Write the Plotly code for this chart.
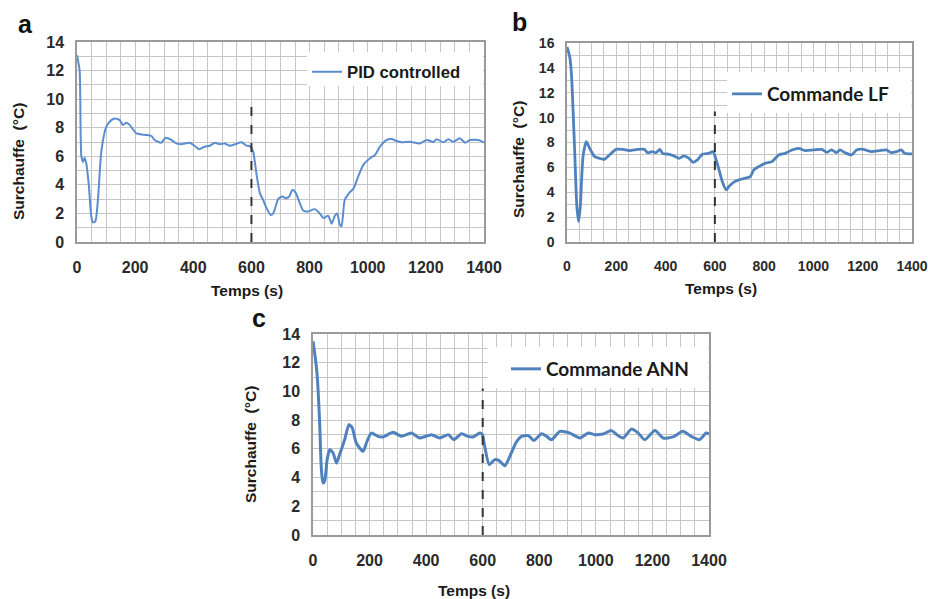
import plotly.graph_objects as go

# ---------------- data ----------------
t_pid = [0, 9, 15, 21, 26, 32, 41, 49, 55, 63, 72, 84, 101, 118, 130, 147, 158, 170, 181, 204, 221, 239, 256, 267, 290, 305, 325, 342, 359, 388, 405, 420, 439, 457, 474, 491, 508, 526, 543, 566, 581, 597, 606, 617, 629, 640, 652, 666, 675, 692, 707, 718, 730, 741, 753, 764, 778, 795, 818, 835, 849, 864, 876, 887, 895, 904, 910, 921, 938, 952, 967, 985, 1008, 1025, 1042, 1065, 1082, 1099, 1117, 1145, 1180, 1203, 1226, 1237, 1260, 1277, 1294, 1317, 1335, 1352, 1381, 1400]
y_pid = [13.07, 12.0, 6.0, 5.6, 5.9, 5.5, 3.9, 1.8, 1.37, 1.44, 2.95, 6.4, 8.07, 8.53, 8.65, 8.53, 8.19, 8.35, 8.2, 7.6, 7.53, 7.49, 7.42, 7.14, 6.95, 7.3, 7.14, 6.9, 6.84, 6.95, 6.72, 6.49, 6.67, 6.74, 6.95, 6.84, 6.9, 6.74, 6.84, 6.98, 6.77, 6.67, 6.33, 4.81, 3.42, 2.95, 2.37, 1.9, 2.0, 3.0, 3.19, 3.07, 3.19, 3.65, 3.42, 2.84, 2.21, 2.14, 2.3, 2.0, 1.67, 1.84, 1.28, 1.84, 2.0, 1.21, 1.1, 2.95, 3.47, 3.77, 4.58, 5.4, 5.86, 6.09, 6.67, 7.14, 7.21, 7.07, 6.98, 7.02, 6.9, 7.14, 7.0, 7.19, 6.98, 7.19, 7.02, 7.26, 6.95, 7.14, 7.14, 6.95]

t_lf = [0, 11, 18, 31, 40, 47, 54, 65, 78, 92, 112, 132, 152, 172, 199, 226, 253, 287, 314, 327, 347, 361, 377, 388, 415, 441, 455, 475, 495, 512, 529, 549, 576, 593, 603, 617, 630, 646, 657, 677, 697, 724, 744, 758, 778, 805, 832, 859, 886, 913, 940, 966, 1000, 1034, 1054, 1074, 1094, 1108, 1128, 1155, 1175, 1202, 1236, 1269, 1296, 1316, 1337, 1357, 1370, 1400]
y_lf = [15.68, 14.9, 13.5, 7.4, 2.86, 1.66, 2.86, 6.86, 8.07, 7.53, 6.86, 6.73, 6.65, 7.0, 7.45, 7.45, 7.35, 7.45, 7.45, 7.18, 7.26, 7.18, 7.45, 7.13, 7.05, 6.86, 6.73, 6.92, 6.73, 6.41, 6.6, 7.05, 7.13, 7.26, 6.73, 5.8, 4.86, 4.19, 4.46, 4.81, 5.0, 5.13, 5.26, 5.8, 6.06, 6.33, 6.46, 7.0, 7.13, 7.4, 7.53, 7.35, 7.4, 7.45, 7.21, 7.4, 7.18, 7.4, 7.18, 7.0, 7.4, 7.45, 7.26, 7.35, 7.4, 7.18, 7.26, 7.4, 7.13, 7.08]

t_ann = [0, 9, 15, 24, 29, 35, 41, 50, 59, 71, 83, 94, 112, 127, 139, 153, 177, 191, 206, 230, 248, 283, 313, 348, 377, 419, 448, 478, 498, 525, 548, 566, 590, 599, 607, 623, 643, 658, 678, 696, 717, 737, 761, 781, 808, 826, 843, 873, 908, 944, 973, 996, 1026, 1055, 1079, 1097, 1126, 1150, 1173, 1209, 1238, 1273, 1308, 1337, 1366, 1390, 1400]
y_ann = [13.49, 12.2, 11.05, 7.57, 4.78, 3.62, 3.74, 5.25, 5.94, 5.71, 5.01, 5.6, 6.64, 7.69, 7.45, 6.41, 5.83, 6.53, 7.1, 6.87, 6.83, 7.15, 6.87, 7.1, 6.76, 6.99, 6.76, 6.99, 6.64, 7.06, 6.87, 6.83, 7.1, 6.99, 6.18, 4.9, 5.25, 5.18, 4.83, 5.48, 6.41, 6.87, 6.92, 6.59, 7.06, 6.87, 6.64, 7.22, 7.1, 6.76, 7.1, 6.99, 7.04, 7.27, 6.92, 6.76, 7.38, 7.1, 6.64, 7.27, 6.76, 6.83, 7.22, 6.87, 6.64, 7.1, 7.04]

series_names = ["PID controlled", "Commande LF", "Commande ANN"]
panel_letters = ["a", "b", "c"]
y_max = [14, 16, 14]
x_max = 1400
step_time = 600
step_line_top = [10.0, 10.5, 10.2]
x_tick_vals = [0, 200, 400, 600, 800, 1000, 1200, 1400]
x_title = "Temps (s)"
y_title = "Surchauffe\u00a0 (°C)"

# ---------------- layout helpers ----------------
W, H = 928, 599
def px(x):
    return x / W
def py(y):
    return 1 - y / H

# plot area boxes in pixels: (left, right, top, bottom)
boxes = [(77, 484, 42, 242), (567, 912, 43, 242), (313, 709, 334, 535)]
legend_boxes = [(307, 483, 52, 86), (727, 911, 72, 113), (488, 708, 347, 388)]
legend_pos = [(307, 72), (727, 94), (506, 369)]
line_colors = ["#5b8dd0", "#4f81bd", "#4f81bd"]
line_widths = [2, 2.8, 3]
tick_sizes = [16, 14, 16]
ytitle_pos = [(18, 162), (518, 160), (250, 445)]
xtitle_pos = [(247, 290), (721, 288), (474, 590)]
letter_pos = [(25, 24), (519, 22), (259, 318)]
legend_fonts = [dict(family="Liberation Sans", size=16.7, color="#1a1a1a", weight="bold"),
                dict(family="Lato", size=19, color="#1a1a1a", weight="bold"),
                dict(family="Lato", size=19, color="#1a1a1a", weight="bold")]

data = [(t_pid, y_pid), (t_lf, y_lf), (t_ann, y_ann)]

fig = go.Figure()
shapes = []
annotations = []
layout = dict(width=W, height=H, margin=dict(l=0, r=0, t=0, b=0, autoexpand=False),
              template="none",
              paper_bgcolor="white", plot_bgcolor="white", showlegend=True)

grid_col = "#c6c6c6"
for i in range(3):
    sfx = "" if i == 0 else str(i + 1)
    t, y = data[i]
    fig.add_trace(go.Scatter(
        x=t, y=y, mode="lines", name=series_names[i],
        line=dict(color=line_colors[i], width=line_widths[i], shape="spline", smoothing=0.6),
        xaxis="x" + sfx, yaxis="y" + sfx,
        legend="legend" + sfx,
    ))
    l, r, tp, b = boxes[i]
    layout["xaxis" + sfx] = dict(
        domain=[px(l), px(r)], anchor="y" + sfx, range=[0, x_max], automargin=False,
        tickvals=x_tick_vals, showgrid=True, gridcolor=grid_col, gridwidth=1,
        minor=dict(dtick=50, tick0=0, showgrid=True, gridcolor=grid_col, gridwidth=1),
        showline=True, mirror=True, linecolor="#9a9a9a", linewidth=1.5,
        ticks="", zeroline=False, ticklabelstandoff=10, ticklabeloverflow="allow",
        tickfont=dict(family="Liberation Sans", size=tick_sizes[i], color="#2a2a2a", weight="bold"),
    )
    layout["yaxis" + sfx] = dict(
        domain=[py(b), py(tp)], anchor="x" + sfx, range=[0, y_max[i]], automargin=False,
        dtick=2, tick0=0, showgrid=True, gridcolor=grid_col, gridwidth=1,
        minor=dict(dtick=1, tick0=0, showgrid=True, gridcolor=grid_col, gridwidth=1),
        showline=True, mirror=True, linecolor="#9a9a9a", linewidth=1.5,
        ticks="", zeroline=False, ticklabelstandoff=8, ticklabeloverflow="allow",
        tickfont=dict(family="Liberation Sans", size=tick_sizes[i], color="#2a2a2a", weight="bold"),
    )
    # white legend background box (pixel box converted to the subplot's axis units)
    lx0, lx1, ly0, ly1 = legend_boxes[i]
    sx = x_max / (r - l)
    sy = y_max[i] / (b - tp)
    shapes.append(dict(type="rect", xref="x" + sfx, yref="y" + sfx,
                       x0=(lx0 - l) * sx, x1=(lx1 - l) * sx,
                       y0=(b - ly1) * sy, y1=(b - ly0) * sy,
                       fillcolor="white", line=dict(width=0), layer="between"))
    # step dashed line
    shapes.append(dict(type="line", xref="x" + sfx, yref="y" + sfx,
                       x0=step_time, x1=step_time, y0=0, y1=step_line_top[i],
                       line=dict(color="#333333", width=2, dash="dash"), layer="above"))
    lgx, lgy = legend_pos[i]
    layout["legend" + sfx] = dict(x=px(lgx), y=py(lgy), xanchor="left", yanchor="middle",
                                  xref="paper", yref="paper",
                                  bgcolor="rgba(0,0,0,0)", borderwidth=0,
                                  font=legend_fonts[i], itemwidth=30)
    # titles
    ax, ay = ytitle_pos[i]
    annotations.append(dict(text=y_title, x=px(ax), y=py(ay), xref="paper", yref="paper",
                            showarrow=False, textangle=-90, xanchor="center", yanchor="middle",
                            font=dict(family="Liberation Sans", size=15.5, color="#1a1a1a", weight="bold")))
    bx, by = xtitle_pos[i]
    annotations.append(dict(text=x_title, x=px(bx), y=py(by), xref="paper", yref="paper",
                            showarrow=False, xanchor="center", yanchor="middle",
                            font=dict(family="Liberation Sans", size=15.5, color="#1a1a1a", weight="bold")))
    cx, cy = letter_pos[i]
    annotations.append(dict(text=panel_letters[i], x=px(cx), y=py(cy), xref="paper", yref="paper",
                            showarrow=False, xanchor="center", yanchor="middle",
                            font=dict(family="Liberation Sans", size=25, color="#111111", weight="bold")))

layout["shapes"] = shapes
layout["annotations"] = annotations
fig.update_layout(**layout)
fig.write_html("out.html")
